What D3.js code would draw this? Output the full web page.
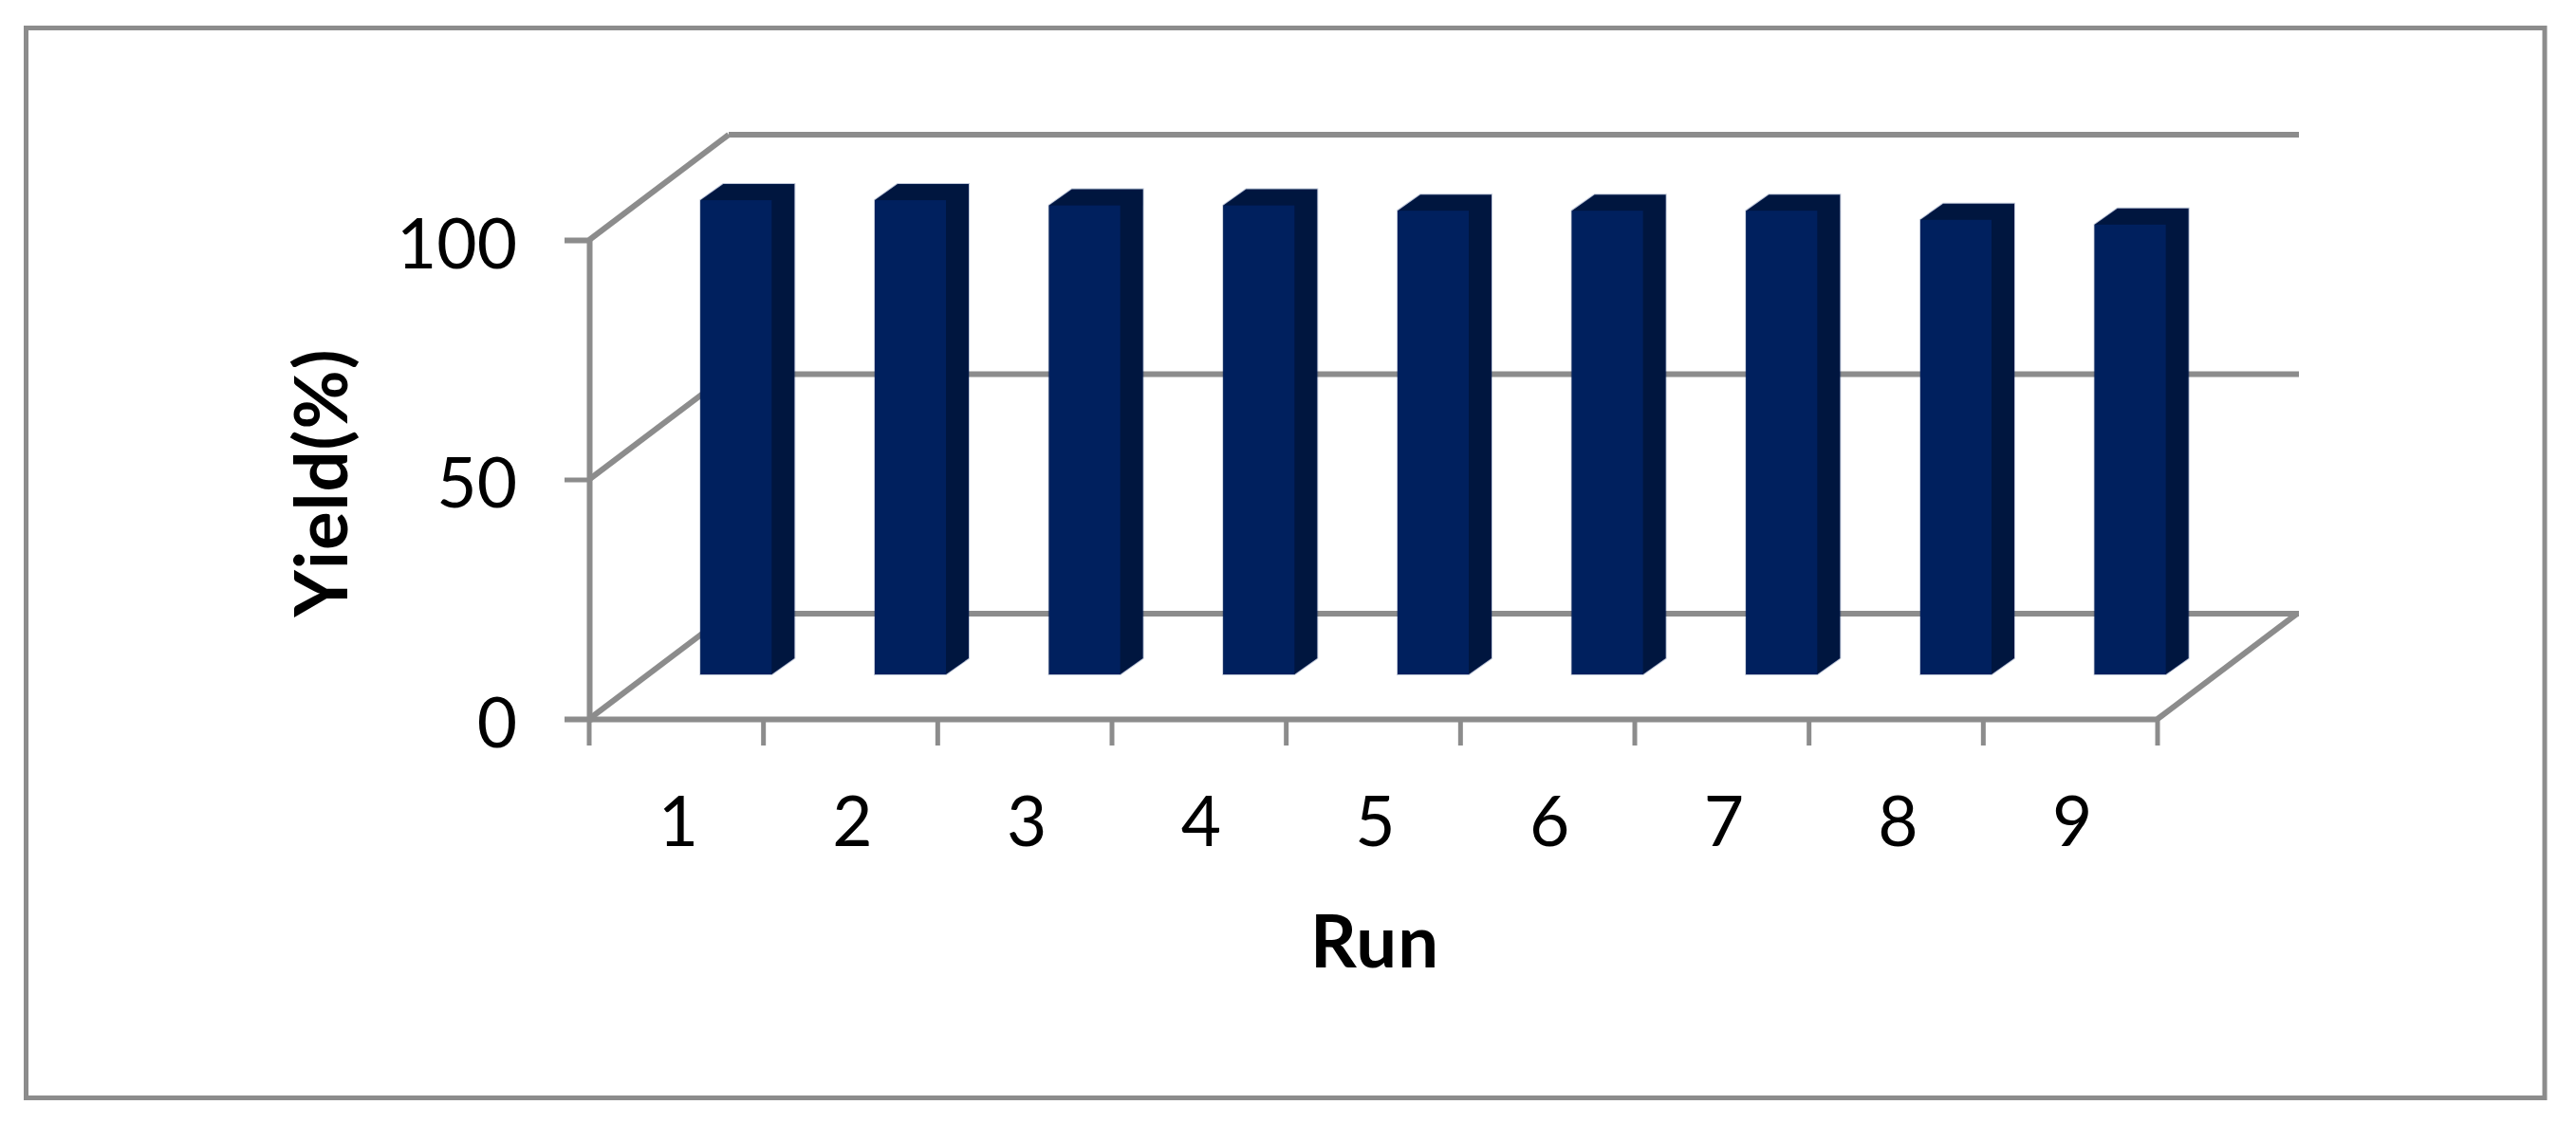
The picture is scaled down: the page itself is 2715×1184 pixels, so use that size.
<!DOCTYPE html>
<html>
<head>
<meta charset="utf-8">
<script src="https://cdn.jsdelivr.net/npm/d3@7"></script>
<style>
html,body{margin:0;padding:0;background:#fff;overflow:hidden}
svg{display:block}
text{font-family:Lato,"Open Sans",sans-serif;fill:#000}
</style>
</head>
<body>
<script>
const runs = ["1","2","3","4","5","6","7","8","9"];
const yields = [99, 99, 97.9, 97.9, 96.8, 96.8, 96.8, 94.9, 93.9];
const yTicks = [0, 50, 100];
const xTitle = "Run";
const yTitle = "Yield(%)";

const W = 2715, H = 1184;
const gray = "#8c8c8c", front = "#00205e", dark = "#00163f";
const plot = {l:621, r:2274, b:758, t:253};
const wall = {dx:147, dy:-111};      // depth of the 3D floor
const seat = {dx:63, dy:-47};        // where the bars stand on the floor
const bar  = {w:75, dx:24, dy:-17};  // bar size and its own depth

const svg = d3.select("body").append("svg").attr("width",W).attr("height",H);
svg.append("rect").attr("width",W).attr("height",H).attr("fill","#fff");
svg.append("rect").attr("x",27.5).attr("y",29.5).attr("width",2654.5).attr("height",1128)
  .attr("fill","none").attr("stroke",gray).attr("stroke-width",5);

const x = d3.scaleBand().domain(runs).range([plot.l,plot.r]);
const y = d3.scaleLinear().domain([0,100]).range([plot.b,plot.t]);

// walls and gridlines
const g = svg.append("g").attr("stroke",gray).attr("stroke-width",6).attr("fill","none");
yTicks.forEach(t=>{
  g.append("line").attr("x1",plot.l).attr("y1",y(t)).attr("x2",plot.l+wall.dx).attr("y2",y(t)+wall.dy);
  g.append("line").attr("x1",plot.l+wall.dx).attr("y1",y(t)+wall.dy).attr("x2",plot.r+wall.dx+2).attr("y2",y(t)+wall.dy);
});
g.append("line").attr("x1",plot.r).attr("y1",y(0)).attr("x2",plot.r+wall.dx).attr("y2",y(0)+wall.dy);

// axes
const yAxis = svg.append("g").attr("transform",`translate(${plot.l},0)`)
  .call(d3.axisLeft(y).tickValues(yTicks).tickSize(26).tickPadding(26));
const xAxis = svg.append("g").attr("transform",`translate(0,${plot.b})`)
  .call(d3.axisBottom(x).tickSize(0).tickPadding(0));
[yAxis,xAxis].forEach(a=>{
  a.selectAll("path").attr("stroke",gray).attr("stroke-width",6);
  a.selectAll("line").attr("stroke",gray).attr("stroke-width",5);
  a.selectAll("text").attr("font-size",73).attr("font-family","Lato").attr("fill","#000");
});
yAxis.selectAll("text").attr("dy",29).attr("x",-76);
xAxis.selectAll("text").attr("y",134).attr("dy",0).attr("dx",2);
// x ticks sit on the category boundaries
xAxis.selectAll(".edge").data(d3.range(runs.length+1)).join("line")
  .attr("class","edge").attr("stroke",gray).attr("stroke-width",5)
  .attr("x1",i=>plot.l+i*x.step()).attr("x2",i=>plot.l+i*x.step()).attr("y1",0).attr("y2",28);

// bars
const bars = svg.append("g").selectAll("g").data(runs.map((r,i)=>({r,v:yields[i]}))).join("g");
const L = d=>x(d.r)+x.bandwidth()/2-bar.w/2+seat.dx;
const T = d=>y(d.v)+seat.dy;
const B = ()=>y(0)+seat.dy;
const poly = f=>d=>f(d).map(p=>p.join(",")).join(" ");
bars.append("polygon").attr("fill",dark).attr("stroke",front).attr("stroke-opacity",.25).attr("stroke-width",2)
  .attr("points",poly(d=>[[L(d),T(d)],[L(d)+bar.dx,T(d)+bar.dy],[L(d)+bar.w+bar.dx,T(d)+bar.dy],[L(d)+bar.w+bar.dx,B()+bar.dy],[L(d)+bar.w,B()],[L(d),B()]]));
bars.append("rect").attr("fill",front)
  .attr("x",L).attr("y",T).attr("width",bar.w).attr("height",d=>B()-T(d));

// titles
svg.append("text").attr("x",1449).attr("y",1020).attr("text-anchor","middle")
  .attr("font-size",76).attr("font-weight",700).attr("letter-spacing",1).text(xTitle);
svg.append("text").attr("transform","translate(366,509) rotate(-90)").attr("text-anchor","middle")
  .attr("font-size",76).attr("font-weight",700).attr("letter-spacing",1).text(yTitle);
</script>
</body>
</html>
